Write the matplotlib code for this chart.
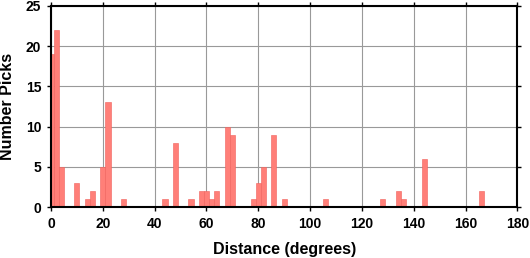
import matplotlib
matplotlib.use("Agg")
import matplotlib.pyplot as plt

# bin centres (degrees) and number of picks in each 2-degree bin
centers = [0, 2, 4, 10, 14, 16, 20, 22, 28, 44, 48, 54, 58, 60, 62, 64,
           68, 70, 78, 80, 82, 86, 90, 106, 128, 134, 136, 144, 166]
counts = [19, 22, 5, 3, 1, 2, 5, 13, 1, 1, 8, 1, 2, 2, 1, 2,
          10, 9, 1, 3, 5, 9, 1, 1, 1, 2, 1, 6, 2]
x_ticks = list(range(0, 181, 20))
y_ticks = list(range(0, 26, 5))

plt.rcParams['font.family'] = ['Liberation Sans', 'DejaVu Sans']
plt.rcParams['font.weight'] = 'bold'

fig = plt.figure(figsize=(5.3, 2.58), dpi=100)
ax = fig.add_axes([0.0962, 0.1965, 0.8802, 0.7814])

ax.bar(centers, counts, width=2, color='#ff7f78', edgecolor='#f0605a',
       linewidth=0.4, zorder=3)

ax.set_xlim(0, 180)
ax.set_ylim(0, 25)
ax.set_xticks(x_ticks)
ax.set_yticks(y_ticks)
ax.grid(True, color='#999999', linewidth=0.8, zorder=0)
ax.set_axisbelow(True)

ax.tick_params(direction='out', length=3, width=1, labelsize=10,
               top=True, right=True, pad=4)
for s in ax.spines.values():
    s.set_linewidth(1.5)
    s.set_zorder(5)

ax.set_xlabel('Distance (degrees)', fontsize=11.5, fontweight='bold', labelpad=8)
ax.set_ylabel('Number Picks', fontsize=11.5, fontweight='bold', labelpad=8)

fig.savefig('out.png', dpi=100)
